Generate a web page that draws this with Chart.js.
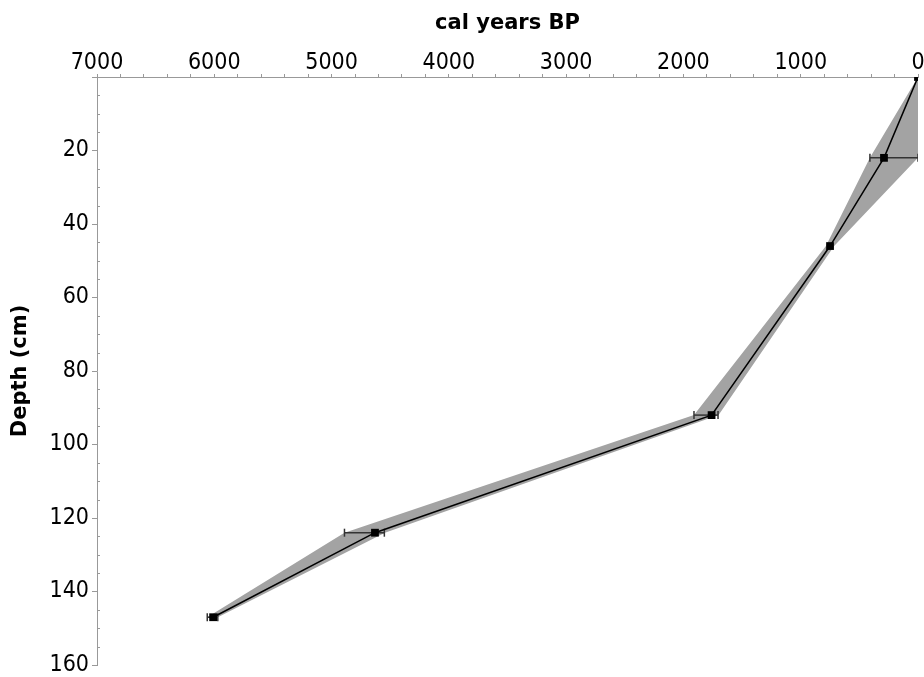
<!DOCTYPE html>
<html>
<head>
<meta charset="utf-8">
<script src="https://cdn.jsdelivr.net/npm/chart.js@4.4.1/dist/chart.umd.min.js"></script>
<style>
  html, body { margin: 0; padding: 0; background: #fff; }
  #wrap { width: 924px; height: 677px; }
</style>
</head>
<body>
<div id="wrap"><canvas id="ageChart"></canvas></div>
<script>
// age-depth model
const depths = [0, 22, 46, 92, 124, 147];
const ages = [0, 290, 750, 1760, 4630, 6010];
// envelope (older / younger bound at each dated depth)
const agesOld = [0, 410, 785, 1910, 4890, 6060];
const agesYoung = [0, 0, 715, 1700, 4545, 5970];

// error bars on dated samples
const errDepths = [22, 92, 124, 147];
const errOld = [410, 1910, 4890, 6060];
const errYoung = [0, 1705, 4550, 5970];

const xTicks = [0, 1000, 2000, 3000, 4000, 5000, 6000, 7000];
const yTicks = [0, 20, 40, 60, 80, 100, 120, 140, 160];

const tickFont = { family: "'DejaVu Sans Condensed', 'DejaVu Sans', sans-serif", size: 23 };
const titleFont = { family: "'DejaVu Sans', sans-serif", size: 21, weight: "bold" };
const axisGray = "#999999";

// envelope polygon: down the old side, back up the young side
let envelope = depths.map((d, i) => ({ x: agesOld[i], y: d }));
for (let i = depths.length - 1; i >= 0; i--) {
    envelope.push({ x: agesYoung[i], y: depths[i] });
}

let datasets = [{
    label: "range",
    data: envelope,
    showLine: true,
    fill: "shape",
    backgroundColor: "#a3a3a3",
    borderWidth: 0,
    borderColor: "rgba(0,0,0,0)",
    pointRadius: 0,
    tension: 0,
    order: 3
}];

errDepths.forEach((d, i) => {
    datasets.push({
        label: "err" + i,
        data: [{ x: errOld[i], y: d }, { x: errYoung[i], y: d }],
        showLine: true,
        borderColor: "#333333",
        borderWidth: 1.5,
        pointStyle: "line",
        rotation: 90,
        pointRadius: 4,
        pointBorderWidth: 1.5,
        pointBorderColor: "#333333",
        order: 2
    });
});

datasets.push({
    label: "model",
    data: depths.map((d, i) => ({ x: ages[i], y: d })),
    showLine: true,
    borderColor: "#000000",
    borderWidth: 1.5,
    backgroundColor: "#000000",
    pointStyle: "rect",
    pointRadius: 5.5,
    pointBorderWidth: 0,
    order: 1
});

// small inward ticks on the depth axis (every 5 cm)
const minorTicks = {
    id: "minorTicks",
    afterDraw(chart) {
        const ctx = chart.ctx;
        const y = chart.scales.y;
        const left = chart.chartArea.left;
        ctx.save();
        ctx.strokeStyle = axisGray;
        ctx.lineWidth = 1;
        for (let v = 5; v < 160; v += 5) {
            if (v % 20 === 0) continue;
            let py = Math.round(y.getPixelForValue(v)) + 0.5;
            ctx.beginPath();
            ctx.moveTo(left, py);
            ctx.lineTo(left + 3, py);
            ctx.stroke();
        }
        ctx.restore();
    }
};

let ctx = document.getElementById("ageChart").getContext("2d");

new Chart(ctx, {
    type: "scatter",
    data: { datasets: datasets },
    plugins: [minorTicks],
    options: {
        responsive: true,
        maintainAspectRatio: false,
        animation: false,
        layout: { padding: { top: 0, left: 0, right: 6, bottom: 12 } },
        plugins: {
            legend: { display: false },
            tooltip: { enabled: false }
        },
        scales: {
            x: {
                type: "linear",
                position: "top",
                reverse: true,
                min: 0,
                max: 7000,
                afterFit: s => { s.height = 77; s.paddingLeft = 0; s.paddingRight = 6; },
                ticks: {
                    stepSize: 200,
                    autoSkip: false,
                    maxRotation: 0,
                    padding: -3,
                    color: "#000",
                    font: tickFont,
                    callback: v => xTicks.includes(v) ? v : ""
                },
                grid: { drawOnChartArea: false, drawTicks: true, tickLength: 3, color: axisGray },
                border: { color: axisGray, width: 1 },
                title: {
                    display: true,
                    text: "cal years BP",
                    color: "#000",
                    font: titleFont,
                    padding: { top: 11, bottom: 0 }
                }
            },
            y: {
                type: "linear",
                reverse: true,
                min: 0,
                max: 160,
                afterFit: s => { s.width = 97; s.paddingTop = 0; s.paddingBottom = 12; },
                ticks: {
                    stepSize: 20,
                    autoSkip: false,
                    padding: 3,
                    color: "#000",
                    font: tickFont,
                    callback: v => yTicks.includes(v) && v !== 0 ? v : ""
                },
                grid: { drawOnChartArea: false, drawTicks: true, tickLength: 5, color: axisGray },
                border: { color: axisGray, width: 1 },
                title: {
                    display: true,
                    text: "Depth (cm)",
                    color: "#000",
                    font: titleFont,
                    padding: { top: 8, bottom: 0 }
                }
            }
        }
    }
});
</script>
</body>
</html>
